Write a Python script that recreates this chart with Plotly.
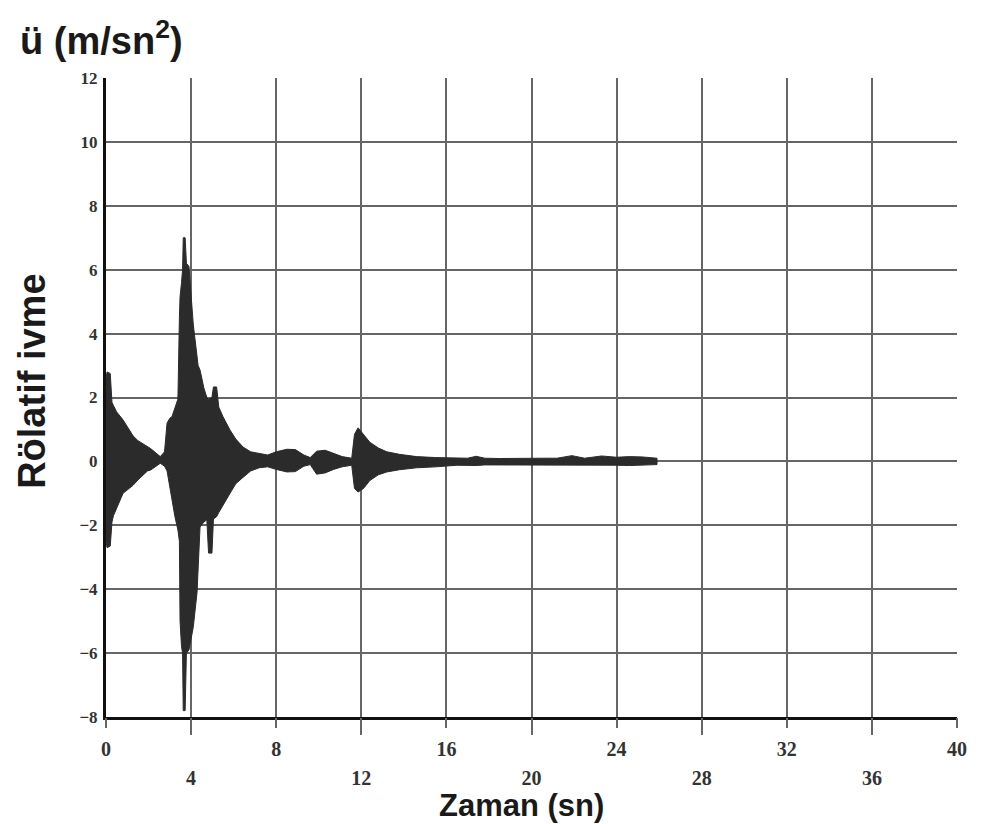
import plotly.graph_objects as go

# Acceleration record: time (s) with upper / lower envelope of the trace (m/s^2)
t_sn = [0.00, 0.05, 0.20, 0.28, 0.35, 0.50, 0.80, 1.27, 1.50, 1.95, 2.10, 2.55,
        2.75, 2.87, 3.00, 3.10, 3.24, 3.38, 3.45, 3.48, 3.55, 3.60, 3.63, 3.72,
        3.78, 3.90, 4.10, 4.28, 4.33, 4.42, 4.60, 4.74, 4.82, 4.98, 5.05, 5.20,
        5.30, 5.50, 5.83, 6.10, 6.44, 6.80, 7.20, 7.60, 8.00, 8.50, 8.90, 9.30,
        9.60, 9.90, 10.30, 10.70, 11.10, 11.55, 11.68, 11.85, 12.10, 12.40, 12.80,
        13.20, 13.80, 14.60, 15.50, 16.50, 17.00, 17.40, 17.80, 18.50, 19.20,
        19.80, 20.50, 21.20, 21.90, 22.50, 23.30, 24.00, 24.60, 25.20, 25.90]
ust = [2.60, 2.80, 2.75, 1.85, 1.75, 1.55, 1.30, 0.80, 0.65, 0.45, 0.40, 0.15,
       0.30, 1.20, 1.35, 1.40, 1.70, 1.95, 4.50, 5.15, 5.60, 6.00, 7.00, 7.00,
       6.20, 6.10, 4.30, 3.20, 3.00, 2.86, 2.30, 2.00, 1.95, 2.00, 2.33, 2.33,
       1.70, 1.40, 0.98, 0.70, 0.45, 0.30, 0.25, 0.20, 0.30, 0.38, 0.37, 0.20,
       0.12, 0.32, 0.35, 0.25, 0.15, 0.10, 0.85, 1.05, 0.85, 0.60, 0.42,
       0.30, 0.22, 0.15, 0.12, 0.10, 0.10, 0.16, 0.10, 0.09, 0.10,
       0.09, 0.10, 0.10, 0.18, 0.10, 0.17, 0.13, 0.15, 0.14, 0.10]
alt = [-2.50, -2.70, -2.65, -1.90, -1.70, -1.43, -1.00, -0.75, -0.58, -0.30, -0.27, -0.06,
       -0.15, -0.30, -0.90, -1.20, -1.73, -2.15, -2.50, -5.00, -5.80, -6.00, -7.80, -7.80,
       -6.00, -5.90, -5.20, -4.10, -3.60, -2.05, -1.90, -1.83, -2.87, -2.87, -1.80, -1.73,
       -1.60, -1.35, -1.00, -0.70, -0.50, -0.30, -0.20, -0.17, -0.25, -0.33, -0.32, -0.15,
       -0.10, -0.40, -0.36, -0.25, -0.17, -0.12, -0.85, -0.96, -0.85, -0.60, -0.42,
       -0.33, -0.26, -0.20, -0.17, -0.12, -0.12, -0.13, -0.11, -0.10, -0.11,
       -0.10, -0.10, -0.11, -0.12, -0.10, -0.12, -0.12, -0.13, -0.12, -0.10]

x_grid = [0, 4, 8, 12, 16, 20, 24, 28, 32, 36, 40]
x_ticks_top = [0, 8, 16, 24, 32, 40]
x_ticks_low = [4, 12, 20, 28, 36]
y_ticks = [-8, -6, -4, -2, 0, 2, 4, 6, 8, 10, 12]

SERIF = "Liberation Serif, Times New Roman, serif"
SANS = "Liberation Sans, Arial, sans-serif"
INK = "#2b2b2b"
GRID = "#666666"

fig = go.Figure()
fig.add_trace(go.Scatter(
    x=t_sn + t_sn[::-1],
    y=ust + alt[::-1],
    mode="lines",
    fill="toself",
    fillcolor=INK,
    line=dict(color=INK, width=1),
    hoverinfo="skip",
    showlegend=False,
))
# empty traces carrying the two staggered rows of time labels
fig.add_trace(go.Scatter(x=[], y=[], xaxis="x2", showlegend=False))
fig.add_trace(go.Scatter(x=[], y=[], xaxis="x3", showlegend=False))

tick_font = dict(family=SERIF, size=20, color="#333", weight="bold")

fig.update_layout(
    width=989, height=824,
    margin=dict(l=106, r=32, t=78, b=107),
    paper_bgcolor="white", plot_bgcolor="white",
    xaxis=dict(
        range=[0, 40], tickvals=x_grid, showticklabels=False,
        ticks="",
        showgrid=True, gridcolor=GRID, gridwidth=2,
        showline=True, linecolor="#111", linewidth=3,
        zeroline=False,
    ),
    xaxis2=dict(
        range=[0, 40], overlaying="x", anchor="y", side="bottom",
        tickvals=x_ticks_top, ticktext=[str(v) for v in x_ticks_top],
        ticks="outside", ticklen=10, tickwidth=2, tickcolor=GRID,
        ticklabelstandoff=4, tickfont=tick_font,
        showgrid=False, showline=False, zeroline=False,
    ),
    xaxis3=dict(
        range=[0, 40], overlaying="x", anchor="y", side="bottom",
        tickvals=x_ticks_low, ticktext=[str(v) for v in x_ticks_low],
        ticks="outside", ticklen=17, tickwidth=2, tickcolor=GRID,
        ticklabelstandoff=26, tickfont=tick_font,
        showgrid=False, showline=False, zeroline=False,
    ),
    yaxis=dict(
        range=[-8, 12],
        tickvals=y_ticks,
        ticks="", ticklabelstandoff=2,
        tickfont=dict(family=SERIF, size=17, color="#333", weight="bold"),
        showgrid=True, gridcolor=GRID, gridwidth=2,
        showline=True, linecolor="#111", linewidth=3,
        zeroline=False,
    ),
    annotations=[
        dict(text="ü (m/sn<sup>2</sup>)", xref="paper", yref="paper",
             x=-0.103, y=1.062, xanchor="left", yanchor="middle", showarrow=False,
             font=dict(family=SANS, size=38, color="#1a1a1a", weight="bold")),
        dict(text="Rölatif ivme", xref="paper", yref="paper", textangle=-90,
             x=-0.087, y=0.526, xanchor="center", yanchor="middle", showarrow=False,
             font=dict(family=SANS, size=38, color="#1a1a1a", weight="bold")),
        dict(text="Zaman (sn)", xref="paper", yref="paper",
             x=0.488, y=-0.139, xanchor="center", yanchor="middle", showarrow=False,
             font=dict(family=SANS, size=31, color="#1a1a1a", weight="bold")),
    ],
)

fig.write_html("out.html")
